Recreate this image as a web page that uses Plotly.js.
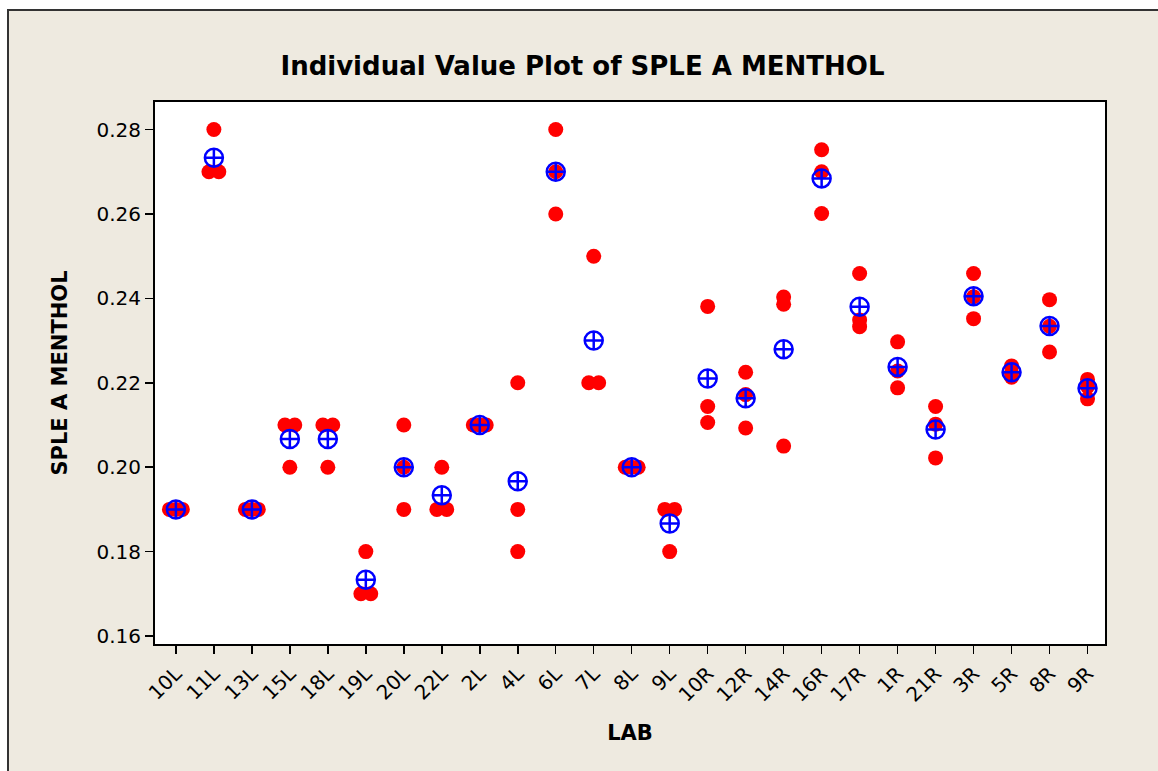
<!DOCTYPE html>
<html>
<head>
<meta charset="utf-8">
<script src="https://cdn.plot.ly/plotly-3.0.1.min.js"></script>
<style>
  html, body { margin: 0; padding: 0; background: #ffffff; }
  #frame { position: absolute; left: 7px; top: 9px; width: 1151px; height: 762px;
           background: #EEEAE0; border-left: 2px solid #333; border-top: 2px solid #333; box-sizing: border-box; }
  #chart { position: absolute; left: 0; top: 0; width: 1158px; height: 771px; }
</style>
</head>
<body>
<div id="frame"></div>
<div id="chart"></div>
<script>
// Categories (LAB) and the three observed SPLE A MENTHOL values for each lab
const labs = ["10L","11L","13L","15L","18L","19L","20L","22L","2L","4L","6L","7L","8L","9L",
              "10R","12R","14R","16R","17R","1R","21R","3R","5R","8R","9R"];
const obsA = [0.19, 0.28, 0.19, 0.21, 0.21, 0.18, 0.21, 0.20, 0.21, 0.22, 0.28, 0.25, 0.20, 0.19,
              0.2381, 0.2225, 0.2403, 0.2752, 0.2459, 0.2297, 0.2144, 0.2459, 0.2240, 0.2397, 0.2208];
const obsB = [0.19, 0.27, 0.19, 0.21, 0.21, 0.17, 0.20, 0.19, 0.21, 0.19, 0.27, 0.22, 0.20, 0.19,
              0.2144, 0.2172, 0.2386, 0.2700, 0.2349, 0.2228, 0.2102, 0.2404, 0.2222, 0.2334, 0.2191];
const obsC = [0.19, 0.27, 0.19, 0.20, 0.20, 0.17, 0.19, 0.19, 0.21, 0.18, 0.26, 0.22, 0.20, 0.18,
              0.2106, 0.2093, 0.2050, 0.2601, 0.2333, 0.2188, 0.2022, 0.2352, 0.2213, 0.2273, 0.2162];
const yTicks = [0.16, 0.18, 0.20, 0.22, 0.24, 0.26, 0.28];

// Build points: identical values within a lab are dodged side by side
const px = [], py = [], mx = [], my = [];
labs.forEach((lab, i) => {
  const vals = [obsA[i], obsB[i], obsC[i]];
  const groups = {};
  vals.forEach(v => { const k = v.toFixed(4); (groups[k] = groups[k] || []).push(v); });
  Object.values(groups).forEach(g => {
    const n = g.length;
    const step = n === 2 ? 0.26 : 0.17;
    g.forEach((v, j) => {
      px.push(i + (j - (n - 1) / 2) * step);
      py.push(v);
    });
  });
  mx.push(i);
  my.push((vals[0] + vals[1] + vals[2]) / 3);
});

const font = "DejaVu Sans, Verdana, sans-serif";

const traces = [
  { type: "scatter", mode: "markers", x: px, y: py, hoverinfo: "y",
    marker: { color: "#FF0000", size: 15, line: { width: 0 } } },
  { type: "scatter", mode: "markers", x: mx, y: my, hoverinfo: "y",
    marker: { symbol: "circle-cross-open", color: "#0000FF", size: 18, line: { width: 2.5, color: "#0000FF" } } }
];

const layout = {
  width: 1158, height: 771,
  paper_bgcolor: "rgba(0,0,0,0)",
  plot_bgcolor: "#FFFFFF",
  showlegend: false,
  margin: { l: 155, r: 53, t: 102, b: 127 },
  title: { text: "Individual Value Plot of SPLE A MENTHOL", x: 0.503, xanchor: "center", y: 0.915, yanchor: "middle",
           font: { family: font, size: 26, weight: "bold", color: "#000" } },
  xaxis: {
    range: [-0.55, 24.46],
    tickmode: "array", tickvals: labs.map((_, i) => i), ticktext: labs,
    tickangle: -45, ticks: "outside", ticklen: 8, tickwidth: 1.5, tickcolor: "#000",
    tickfont: { family: font, size: 20, color: "#000" },
    showgrid: false, zeroline: false,
    showline: true, linecolor: "#000", linewidth: 2, mirror: true,
    title: { text: "LAB", standoff: 20, font: { family: font, size: 21, weight: "bold", color: "#000" } }
  },
  yaxis: {
    range: [0.15811, 0.28653],
    tickmode: "array", tickvals: yTicks, ticktext: yTicks.map(v => v.toFixed(2)),
    ticks: "outside", ticklen: 8, tickwidth: 1.5, tickcolor: "#000",
    tickfont: { family: font, size: 20, color: "#000" },
    showgrid: false, zeroline: false,
    showline: true, linecolor: "#000", linewidth: 2, mirror: true,
    title: { text: "SPLE A MENTHOL", standoff: 23, font: { family: font, size: 21, weight: "bold", color: "#000" } }
  }
};

Plotly.newPlot("chart", traces, layout, { displayModeBar: false, staticPlot: true });
</script>
</body>
</html>
